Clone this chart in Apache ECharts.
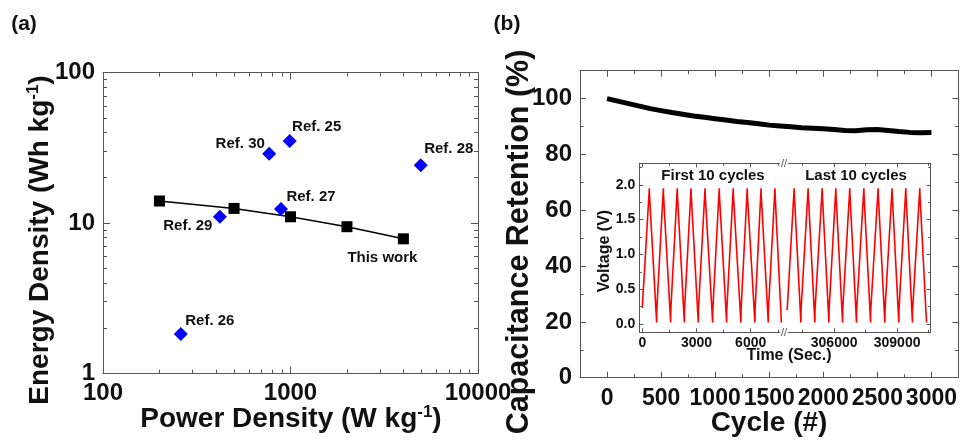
<!DOCTYPE html>
<html><head><meta charset="utf-8">
<script src="https://cdn.jsdelivr.net/npm/echarts@6/dist/echarts.min.js"></script>
<style>html,body{margin:0;padding:0;background:#fff}#c{width:960px;height:441px}</style>
</head><body><div id="c"></div>
<script>
// ---------- Panel (a): Ragone plot ----------
const thisWorkPower  = [200, 500, 1000, 2000, 4000];
const thisWorkEnergy = [14.0, 12.5, 11.0, 9.45, 7.85];
const refNames  = ['Ref. 25', 'Ref. 26', 'Ref. 27', 'Ref. 28', 'Ref. 29', 'Ref. 30'];
const refPower  = [990, 260, 890, 4950, 420, 770];
const refEnergy = [35.1, 1.83, 12.4, 24.2, 11.0, 28.9];
const powerTicks       = [100, 1000, 10000];
const powerMinorTicks  = [200, 300, 400, 500, 600, 700, 800, 900, 2000, 3000, 4000, 5000, 6000, 7000, 8000, 9000];
const energyTicks      = [1, 10, 100];
const energyMinorTicks = [2, 3, 4, 5, 6, 7, 8, 9, 20, 30, 40, 50, 60, 70, 80, 90];

// ---------- Panel (b): cycling stability ----------
const cycles = [0, 100, 200, 300, 400, 500, 600, 700, 800, 900, 1000, 1100, 1200, 1300, 1400, 1500,
                1600, 1700, 1800, 1900, 2000, 2100, 2200, 2300, 2400, 2500, 2600, 2700, 2800, 2900, 3000];
const retention = [100.0, 99.1, 98.2, 97.3, 96.4, 95.7, 95.0, 94.4, 93.8, 93.3, 92.8, 92.3, 91.8, 91.4, 91.0, 90.5,
                   90.2, 89.9, 89.6, 89.4, 89.2, 88.9, 88.6, 88.5, 88.8, 88.9, 88.6, 88.2, 87.9, 87.8, 87.9];
const cycleTicks = [0, 500, 1000, 1500, 2000, 2500, 3000];
const cycleMinorTicks = [250, 750, 1250, 1750, 2250, 2750];
const retentionTicks = [0, 20, 40, 60, 80, 100];
const retentionMinorTicks = [10, 30, 50, 70, 90];

// ---------- Inset: galvanostatic charge/discharge ----------
const firstStart = [0, 0.23];
const firstPeakTimes   = [390, 1165, 1937, 2700, 3475, 4260, 5035, 5810, 6575, 7345];
const firstValleyTimes = [795, 1570, 2330, 3100, 3895, 4670, 5460, 6235, 6975, 7700];
const lastStart = [303760, 0.20];
const lastPeakTimes   = [304095, 304760, 305430, 306080, 306745, 307415, 308095, 308760, 309415, 310080];
const lastValleyTimes = [304415, 305080, 305750, 306400, 307065, 307735, 308415, 309080, 309730, 310400];
const peakVoltage = 1.95, peakAfterDrop = 1.86, valleyVoltage = 0.02, valleyAfterJump = 0.2;
const firstTimeTicks = [0, 3000, 6000];
const firstTimeMinor = [1500, 4500, 7500];
const lastTimeTicks = [306000, 309000];
const lastTimeMinor = [304500, 307500, 310500];
const voltTicks = [0, 0.5, 1.0, 1.5, 2.0];
const voltMinor = [0.25, 0.75, 1.25, 1.75, 2.25];

// ---------- styling ----------
const FONT = '"Liberation Sans", Arial, Helvetica, sans-serif';
const AXC = '#555';
const TXT = '#111';
const plain = v => String(Math.round(Number(v)));

function buildWave(start, peaks, valleys) {
  const pts = [start.slice()];
  for (let i = 0; i < peaks.length; i++) {
    pts.push([peaks[i], peakVoltage]);
    pts.push([peaks[i] + 8, peakAfterDrop]);
    pts.push([valleys[i], valleyVoltage]);
    if (i < peaks.length - 1) pts.push([valleys[i] + 8, valleyAfterJump]);
  }
  return pts;
}

function axis(type, gridIndex, position, min, max, vals, len, showLine, labelOpt) {
  const o = {
    type: type, gridIndex: gridIndex, position: position, min: min, max: max,
    splitLine: {show: false}, minorTick: {show: false}, minorSplitLine: {show: false},
    axisPointer: {show: false}, silent: true,
    axisLine: {show: showLine, onZero: false, lineStyle: {color: AXC, width: 1}},
    axisTick: {show: true, inside: true, length: len, customValues: vals, lineStyle: {color: AXC, width: 1}},
    axisLabel: {show: false}
  };
  if (type === 'log') o.logBase = 10;
  if (labelOpt) {
    o.axisLabel = Object.assign({show: true, customValues: vals, color: TXT, fontFamily: FONT, fontWeight: 'bold',
      formatter: plain, hideOverlap: false, showMinLabel: true, showMaxLabel: true}, labelOpt);
  }
  return o;
}

const xAxes = [
  // grid 0 (panel a)
  axis('log', 0, 'bottom', 100, 10000, powerTicks, 7, true, {fontSize: 24, margin: 8}),
  axis('log', 0, 'bottom', 100, 10000, powerMinorTicks, 4, false),
  axis('log', 0, 'top', 100, 10000, powerTicks, 7, true),
  axis('log', 0, 'top', 100, 10000, powerMinorTicks, 4, false),
  // grid 1 (panel b)
  axis('value', 1, 'bottom', -250, 3250, cycleTicks, 6, true, {fontSize: 23, margin: 9}),
  axis('value', 1, 'bottom', -250, 3250, cycleMinorTicks, 3.5, false),
  axis('value', 1, 'top', -250, 3250, cycleTicks, 6, true),
  axis('value', 1, 'top', -250, 3250, cycleMinorTicks, 3.5, false),
  // grid 2 (inset, first cycles)
  axis('value', 2, 'bottom', -165, 7845, firstTimeTicks, 4, true, {fontSize: 14, margin: 4}),
  axis('value', 2, 'bottom', -165, 7845, firstTimeMinor, 2.5, false),
  axis('value', 2, 'top', -165, 7845, firstTimeTicks, 4, true),
  axis('value', 2, 'top', -165, 7845, firstTimeMinor, 2.5, false),
  // grid 3 (inset, last cycles)
  axis('value', 3, 'bottom', 303610, 310600, lastTimeTicks, 4, true, {fontSize: 14, margin: 4}),
  axis('value', 3, 'bottom', 303610, 310600, lastTimeMinor, 2.5, false),
  axis('value', 3, 'top', 303610, 310600, lastTimeTicks, 4, true),
  axis('value', 3, 'top', 303610, 310600, lastTimeMinor, 2.5, false)
];
const yAxes = [
  axis('log', 0, 'left', 1, 100, energyTicks, 7, true, {fontSize: 24, margin: 8}),
  axis('log', 0, 'left', 1, 100, energyMinorTicks, 4, false),
  axis('log', 0, 'right', 1, 100, energyTicks, 7, true),
  axis('log', 0, 'right', 1, 100, energyMinorTicks, 4, false),
  axis('value', 1, 'left', 0, 110, retentionTicks, 6, true, {fontSize: 24, margin: 8}),
  axis('value', 1, 'left', 0, 110, retentionMinorTicks, 3.5, false),
  axis('value', 1, 'right', 0, 110, retentionTicks, 6, true),
  axis('value', 1, 'right', 0, 110, retentionMinorTicks, 3.5, false),
  axis('value', 2, 'left', -0.12, 2.31, voltTicks, 4, true, {fontSize: 14, margin: 4, formatter: v => Number(v).toFixed(1)}),
  axis('value', 2, 'left', -0.12, 2.31, voltMinor, 2.5, false),
  axis('value', 3, 'right', -0.12, 2.31, voltTicks, 4, true),
  axis('value', 3, 'right', -0.12, 2.31, voltMinor, 2.5, false)
];

const refLabelOffsets = [[27, -14], [29, -13], [30, -12], [28, -16], [-32, 9], [-29, -10]];
const labelText = {color: '#111', fontFamily: FONT, fontWeight: 'bold', fontSize: 15};

const thisWorkData = thisWorkPower.map((p, i) => {
  const item = {value: [p, thisWorkEnergy[i]]};
  if (i === thisWorkPower.length - 1) {
    item.label = Object.assign({show: true, position: 'inside', offset: [-21, 19], formatter: 'This work'}, labelText);
  }
  return item;
});
const refData = refNames.map((n, i) => ({
  name: n, value: [refPower[i], refEnergy[i]],
  label: Object.assign({show: true, position: 'inside', offset: refLabelOffsets[i], formatter: n}, labelText)
}));

const titleFont = {fontFamily: FONT, fontWeight: 'bold', fill: TXT};
function gtext(x, y, text, size, rot, rich) {
  const g = {type: 'text', x: x, y: y, rotation: rot || 0, z: 100, silent: true,
    style: Object.assign({text: text, fontSize: size, align: 'center', verticalAlign: 'middle'}, titleFont)};
  if (rich) g.style.rich = rich;
  return g;
}
const supStyle = {sup: {fontSize: 17, fontWeight: 'bold', fontFamily: FONT, fill: TXT, verticalAlign: 'top', lineHeight: 30}};

const option = {
  backgroundColor: '#fff',
  animation: false,
  grid: [
    {left: 103, top: 72.5, width: 375, height: 301},
    {left: 580, top: 70.7, width: 379, height: 307},
    {left: 639.3, top: 163.3, width: 144.7, height: 169},
    {left: 784, top: 163.3, width: 146.7, height: 169}
  ],
  xAxis: xAxes,
  yAxis: yAxes,
  series: [
    {type: 'line', xAxisIndex: 0, yAxisIndex: 0, data: thisWorkData, symbol: 'rect', symbolSize: 11,
     itemStyle: {color: '#000', opacity: 1}, lineStyle: {color: '#000', width: 1.5}, z: 3},
    {type: 'scatter', xAxisIndex: 0, yAxisIndex: 0, data: refData, symbol: 'diamond', symbolSize: 14,
     itemStyle: {color: '#0000ff', opacity: 1}, z: 4},
    {type: 'line', xAxisIndex: 4, yAxisIndex: 4, data: cycles.map((c, i) => [c, retention[i]]),
     showSymbol: false, symbol: 'none', lineStyle: {color: '#000', width: 5}},
    {type: 'line', xAxisIndex: 8, yAxisIndex: 8, data: buildWave(firstStart, firstPeakTimes, firstValleyTimes),
     showSymbol: false, symbol: 'none', lineStyle: {color: '#ff0000', width: 1.6}},
    {type: 'line', xAxisIndex: 12, yAxisIndex: 10, data: buildWave(lastStart, lastPeakTimes, lastValleyTimes),
     showSymbol: false, symbol: 'none', lineStyle: {color: '#ff0000', width: 1.6}}
  ],
  graphic: [
    gtext(24, 24, '(a)', 21),
    gtext(507, 24, '(b)', 21),
    gtext(40, 240, 'Energy Density (Wh kg{sup|-1})', 28, Math.PI / 2, supStyle),
    gtext(291, 419, 'Power Density (W kg{sup|-1})', 28, 0, supStyle),
    gtext(520, 242, 'Capacitance Retention (%)', 30.5, Math.PI / 2),
    gtext(769, 423, 'Cycle (#)', 28, 0),
    gtext(605, 251, 'Voltage (V)', 16, Math.PI / 2),
    gtext(789, 356, 'Time (Sec.)', 16, 0),
    gtext(713, 176, 'First 10 cycles', 15, 0),
    gtext(856, 176, 'Last 10 cycles', 15, 0),
    {type: 'rect', z: 99, silent: true, shape: {x: 780, y: 161, width: 8, height: 5}, style: {fill: '#fff'}},
    {type: 'rect', z: 99, silent: true, shape: {x: 780, y: 330, width: 8, height: 5}, style: {fill: '#fff'}},
    {type: 'text', z: 100, silent: true, x: 784, y: 163.5, style: {text: '//', fontSize: 11, fontFamily: FONT, fill: AXC, align: 'center', verticalAlign: 'middle'}},
    {type: 'text', z: 100, silent: true, x: 784, y: 332.5, style: {text: '//', fontSize: 11, fontFamily: FONT, fill: AXC, align: 'center', verticalAlign: 'middle'}}
  ]
};

const chart = echarts.init(document.getElementById('c'), null, {renderer: 'canvas'});
chart.setOption(option);
</script>
</body></html>
